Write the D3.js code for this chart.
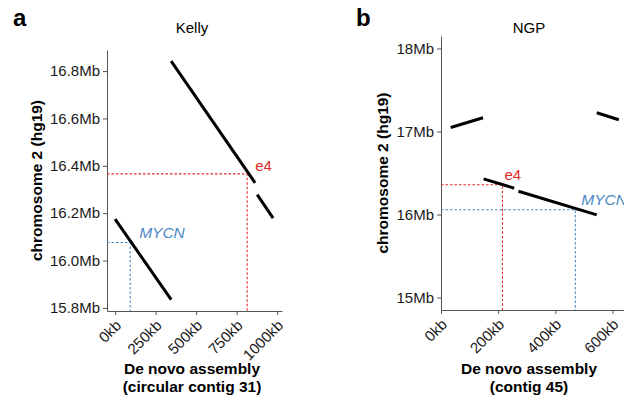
<!DOCTYPE html>
<html>
<head>
<meta charset="utf-8">
<script src="https://cdnjs.cloudflare.com/ajax/libs/d3/7.8.5/d3.min.js"></script>
<style>
  body { margin: 0; background: #fff; }
  text { font-family: "Liberation Sans", Arial, sans-serif; }
</style>
</head>
<body>
<div id="chart"></div>
<script>
var width = 624, height = 401;

// panel a: Kelly (x in kb, y in Mb)
var kellySegments = [
  [0, 16.175, 346, 15.835],
  [346, 16.842, 864, 16.328],
  [877, 16.278, 975, 16.179]
];
var kellyTicksX = [0, 250, 500, 750, 1000];
var kellyTicksY = [15.8, 16.0, 16.2, 16.4, 16.6, 16.8];
var kellyE4 = [815, 16.366];
var kellyMYCN = [93, 16.076];

// panel b: NGP
var ngpSegments = [
  [34, 17.048, 147, 17.165],
  [545, 17.225, 622, 17.141],
  [149, 16.43, 256, 16.317],
  [271, 16.28, 545, 15.996]
];
var ngpTicksX = [0, 200, 400, 600];
var ngpTicksY = [15, 16, 17, 18];
var ngpE4 = [215, 16.358];
var ngpMYCN = [470, 16.057];

var red = "#de2d26", blue = "#4a87c6";

var svg = d3.select("#chart").append("svg")
  .attr("width", width).attr("height", height);

function panel(o) {
  var g = svg.append("g");
  var x = d3.scaleLinear().domain(o.xdom).range(o.xr);
  var y = d3.scaleLinear().domain(o.ydom).range(o.yr);

  var yAxis = g.append("g").attr("transform", "translate(" + o.xr[0] + ",0)")
    .call(d3.axisLeft(y).tickValues(o.ticksY).tickSizeOuter(0).tickSizeInner(4).tickPadding(3)
      .tickFormat(o.fmtY));
  var xAxis = g.append("g").attr("transform", "translate(0," + o.yr[0] + ")")
    .call(d3.axisBottom(x).tickValues(o.ticksX).tickSizeOuter(0).tickSizeInner(4)
      .tickFormat(function (d) { return d + "kb"; }));
  [xAxis, yAxis].forEach(function (a) {
    a.select(".domain").attr("stroke", "#555");
    a.selectAll(".tick line").attr("stroke", "#555");
    a.selectAll("text").attr("fill", "#1a1a1a").style("font-size", "15px");
  });
  xAxis.selectAll(".tick text")
    .attr("text-anchor", "end")
    .attr("y", 0).attr("dy", "0.7em")
    .attr("transform", "translate(-1,8) rotate(-45)");

  // marker dashed lines
  function guide(p, col) {
    var d = "M" + o.xr[0] + "," + y(p[1]) + "H" + x(p[0]) + "V" + o.yr[0];
    g.append("path").attr("d", d).attr("fill", "none")
      .attr("stroke", col).attr("stroke-width", 1.1).attr("stroke-dasharray", "2.5,2");
  }
  guide(o.e4, red);
  guide(o.mycn, blue);

  g.selectAll("line.seg").data(o.segs).enter().append("line")
    .attr("class", "seg")
    .attr("x1", function (d) { return x(d[0]); })
    .attr("y1", function (d) { return y(d[1]); })
    .attr("x2", function (d) { return x(d[2]); })
    .attr("y2", function (d) { return y(d[3]); })
    .attr("stroke", "#000").attr("stroke-width", 3);

  g.append("text").attr("x", x(o.e4[0]) + o.e4Off[0]).attr("y", y(o.e4[1]) + o.e4Off[1])
    .attr("fill", red).style("font-size", "15px").text("e4");
  g.append("text").attr("x", x(o.mycn[0]) + o.mycnOff[0]).attr("y", y(o.mycn[1]) + o.mycnOff[1])
    .attr("fill", blue).style("font-size", "15.5px").style("font-style", "italic").text("MYCN");

  // titles
  g.append("text").attr("x", o.cx).attr("y", 33).attr("text-anchor", "middle")
    .style("font-size", "15px").text(o.title);
  g.append("text").attr("x", o.letterX).attr("y", 26)
    .style("font-size", "24px").style("font-weight", "bold").text(o.letter);
  var xt = g.append("text").attr("text-anchor", "middle")
    .style("font-size", "15.5px").style("font-weight", "bold");
  xt.append("tspan").attr("x", o.cx).attr("y", 374).text("De novo assembly");
  xt.append("tspan").attr("x", o.cx).attr("y", 392).text(o.xsub);
  g.append("text").attr("transform", "translate(" + o.ytX + "," + ((o.yr[0] + o.yr[1]) / 2) + ") rotate(-90)")
    .attr("text-anchor", "middle")
    .style("font-size", "15.5px").style("font-weight", "bold").text("chromosome 2 (hg19)");
}

panel({
  xdom: [-50, 1030], xr: [107, 282],
  ydom: [15.787, 16.889], yr: [311, 50],
  ticksX: kellyTicksX, ticksY: kellyTicksY,
  fmtY: function (d) { return d.toFixed(1) + "Mb"; },
  segs: kellySegments, e4: kellyE4, mycn: kellyMYCN,
  e4Off: [8, -3], mycnOff: [9, -5],
  title: "Kelly", letter: "a", letterX: 13, cx: 192,
  xsub: "(circular contig 31)", ytX: 42
});

panel({
  xdom: [0, 700], xr: [441, 441 + 700 * 0.2858],
  ydom: [14.85, 18.15], yr: [310, 36],
  ticksX: ngpTicksX, ticksY: ngpTicksY,
  fmtY: function (d) { return d + "Mb"; },
  segs: ngpSegments, e4: ngpE4, mycn: ngpMYCN,
  e4Off: [2, -5], mycnOff: [6, -5],
  title: "NGP", letter: "b", letterX: 356, cx: 529,
  xsub: "(contig 45)", ytX: 388
});
</script>
</body>
</html>
